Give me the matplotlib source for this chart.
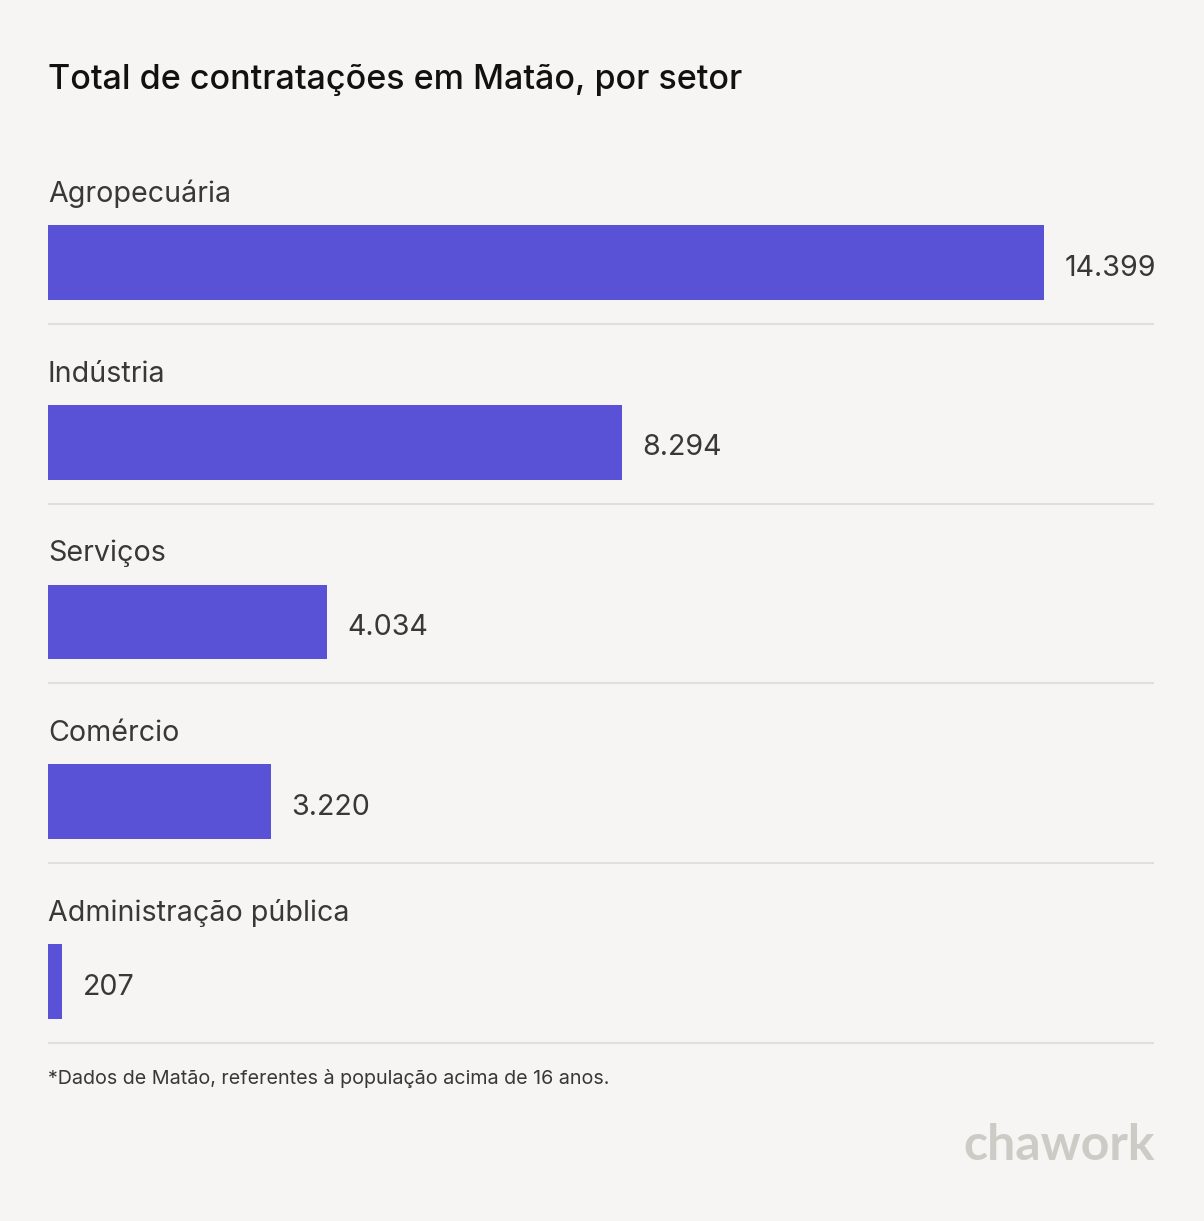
import matplotlib.pyplot as plt

# Données
setores = ['Agropecuária', 'Indústria', 'Serviços', 'Comércio', 'Administração pública']
contratacoes = [14399, 8294, 4034, 3220, 207]
rotulos = ['14.399', '8.294', '4.034', '3.220', '207']

titulo = 'Total de contratações em Matão, por setor'
nota = '*Dados de Matão, referentes à população acima de 16 anos.'

bg = '#f6f5f3'
cor_barra = '#5952d6'
cor_texto = '#383838'
cor_linha = '#e1dfdc'

W, H = 1204, 1221
fig = plt.figure(figsize=(W / 100, H / 100), dpi=100, facecolor=bg)
plt.rcParams['font.family'] = ['Inter', 'DejaVu Sans']

# axes: de x=48 a 1154 px, de y=150 a 1050 px
ax = fig.add_axes([48 / W, 1 - 1050 / H, 1106 / W, 900 / H])
ax.set_facecolor(bg)
ax.set_xlim(0, max(contratacoes) * 1106 / 996)
ax.set_ylim(4.381, -0.626)
ax.axis('off')

pos = list(range(len(setores)))
ax.barh(pos, contratacoes, height=0.417, color=cor_barra)

for i, (s, v, r) in enumerate(zip(setores, contratacoes, rotulos)):
    ax.text(0, i - 0.337, s, fontsize=20.6, color=cor_texto, va='baseline', ha='left')
    ax.annotate(r, (v, i), xytext=(14.5, -4), textcoords='offset points',
                fontsize=20.6, color=cor_texto, va='center', ha='left')
    ax.axhline(i + 0.342, color=cor_linha, lw=1.5)

fig.text(48 / W, 1 - 80 / H, titulo, fontsize=24.5, color='#111111',
         va='center', ha='left', fontweight='medium')
fig.text(48 / W, 1 - 1079 / H, nota, fontsize=14.2, color=cor_texto,
         va='center', ha='left')
fig.text(1155 / W, 1 - 1146 / H, 'chawork', fontsize=36, color='#cdcbc5',
         va='center', ha='right', fontweight='bold', family=['Lato', 'DejaVu Sans'])

fig.savefig('out.png', dpi=100, facecolor=bg)
